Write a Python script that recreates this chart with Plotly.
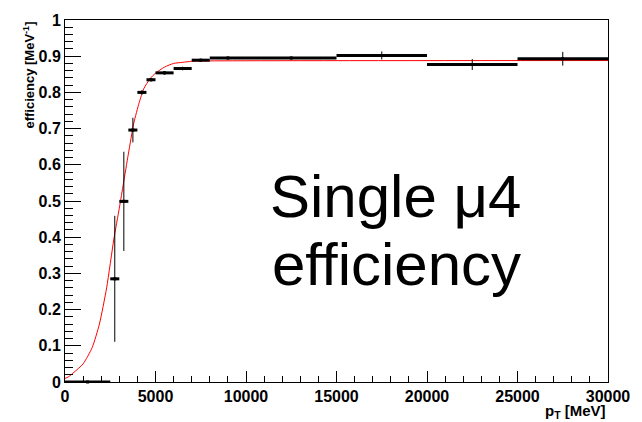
import plotly.graph_objects as go

# ---- data ----
bin_lo = [0, 2500, 3000, 3500, 4000, 4500, 5000, 6000, 7000, 8000, 10000, 15000, 20000, 25000]
bin_hi = [2500, 3000, 3500, 4000, 4500, 5000, 6000, 7000, 8000, 10000, 15000, 20000, 25000, 30000]
eff = [0.0, 0.285, 0.499, 0.696, 0.800, 0.835, 0.854, 0.866, 0.889, 0.895, 0.895, 0.902, 0.877, 0.893]
eff_err = [0.0, 0.174, 0.137, 0.034, 0.006, 0.005, 0.005, 0.005, 0.004, 0.004, 0.004, 0.011, 0.015, 0.019]

fit_x = [0, 180, 500, 1000, 1500, 1900, 2300, 2700, 3000, 3230, 3500, 3800, 4100, 4350,
         4700, 5000, 5500, 6000, 6500, 7000, 8000, 30000]
fit_y = [0.010, 0.014, 0.027, 0.050, 0.095, 0.160, 0.260, 0.395, 0.480, 0.549, 0.630, 0.715,
         0.772, 0.810, 0.838, 0.853, 0.870, 0.880, 0.883, 0.886, 0.887, 0.888]

x_ticks = [0, 5000, 10000, 15000, 20000, 25000, 30000]
y_ticks = [0, 0.1, 0.2, 0.3, 0.4, 0.5, 0.6, 0.7, 0.8, 0.9, 1]

x_center = [(a + b) / 2 for a, b in zip(bin_lo, bin_hi)]
x_half = [(b - a) / 2 for a, b in zip(bin_lo, bin_hi)]

FONT = "Liberation Sans"

fig = go.Figure()

fig.add_trace(go.Scatter(
    x=fit_x, y=fit_y, mode="lines",
    line=dict(color="red", width=1, shape="spline", smoothing=0.6),
    hoverinfo="skip", showlegend=False,
))

fig.add_trace(go.Scatter(
    x=x_center, y=eff, mode="markers",
    marker=dict(color="black", size=3, symbol="square"),
    error_x=dict(type="data", array=x_half, color="black", thickness=3, width=0),
    error_y=dict(type="data", array=eff_err, color="black", thickness=1, width=0),
    cliponaxis=False, showlegend=False,
))

fig.update_layout(
    width=642, height=422,
    margin=dict(l=65, r=26, t=14, b=40),
    paper_bgcolor="white", plot_bgcolor="white",
    font=dict(family=FONT, color="black"),
    showlegend=False,
    xaxis=dict(
        range=[0, 30000], tickvals=x_ticks, ticktext=[str(v) for v in x_ticks],
        ticks="inside", ticklen=11, tickwidth=1, tickcolor="black",
        minor=dict(dtick=1000, ticks="inside", ticklen=6, tickcolor="black", tickwidth=1),
        showline=True, linecolor="black", linewidth=1, mirror=True,
        showgrid=False, zeroline=False,
        tickfont=dict(family=FONT, size=16, weight="bold", color="black"),
    ),
    yaxis=dict(
        range=[0, 1], tickvals=y_ticks, ticktext=[("%g" % v) for v in y_ticks],
        ticks="inside", ticklen=16, tickwidth=1, tickcolor="black",
        minor=dict(dtick=0.02, ticks="inside", ticklen=8, tickcolor="black", tickwidth=1),
        showline=True, linecolor="black", linewidth=1, mirror=True,
        showgrid=False, zeroline=False,
        tickfont=dict(family=FONT, size=16, weight="bold", color="black"),
    ),
)

# axis titles (ROOT style, aligned to the axis ends)
fig.add_annotation(
    text="<b>efficiency [MeV<sup>-1</sup>]</b>", textangle=-90,
    xref="paper", yref="paper", x=-0.068, y=1.0, xanchor="center", yanchor="top",
    showarrow=False, font=dict(family=FONT, size=13, color="black"),
)
fig.add_annotation(
    text="<b>p<sub>T</sub> [MeV]</b>",
    xref="paper", yref="paper", x=1.0, y=-0.05, xanchor="right", yanchor="top",
    showarrow=False, font=dict(family=FONT, size=15, color="black"),
)

# big label
fig.add_annotation(
    text="Single \u03bc4", xref="paper", yref="paper",
    x=(271 - 65) / 551, y=(382 - 193) / 368, xanchor="left", yanchor="middle",
    showarrow=False, font=dict(family=FONT, size=60, color="black"),
)
fig.add_annotation(
    text="efficiency", xref="paper", yref="paper",
    x=(273 - 65) / 551, y=(382 - 263) / 368, xanchor="left", yanchor="middle",
    showarrow=False, font=dict(family=FONT, size=60, color="black"),
)

fig.write_html("out.html")
